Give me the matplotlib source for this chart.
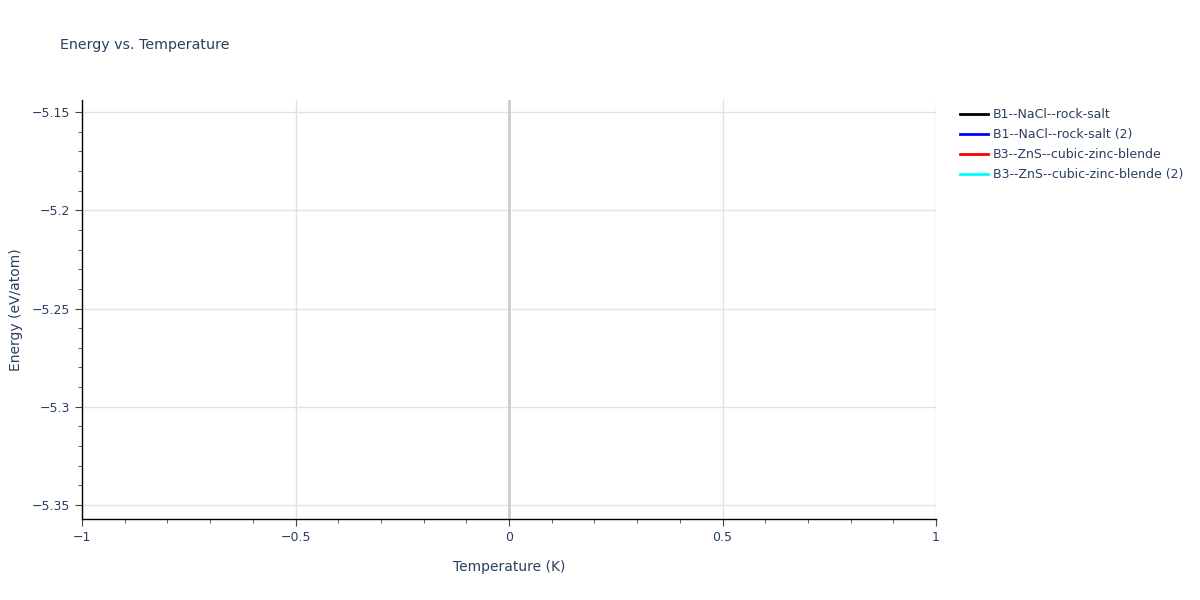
import numpy as np
import matplotlib.pyplot as plt
from matplotlib.ticker import MultipleLocator

# each structure only has a single (T, E) point, so no visible line gets drawn
temps = [0.0]
names = ['B1--NaCl--rock-salt', 'B1--NaCl--rock-salt (2)',
         'B3--ZnS--cubic-zinc-blende', 'B3--ZnS--cubic-zinc-blende (2)']
energies = [[-5.3474], [-5.3474], [-5.1536], [-5.1536]]
colors = ['black', 'blue', 'red', 'cyan']

txt = '#2a3f5f'
fig = plt.figure(figsize=(12, 6), dpi=100)
ax = fig.add_axes([82 / 1200, 1 - 519 / 600, (936 - 82) / 1200, 419 / 600])

for e, name, c in zip(energies, names, colors):
    ax.plot(temps, e, color=c, lw=2, label=name)

ax.set_xlim(-1, 1)
ax.set_ylim(-5.3571, -5.1439)
ax.xaxis.set_minor_locator(MultipleLocator(0.1))
ax.yaxis.set_minor_locator(MultipleLocator(0.01))
ax.set_xticks([-1, -0.5, 0, 0.5, 1])
ax.set_xticklabels(['\u22121', '\u22120.5', '0', '0.5', '1'])
ax.set_yticks([-5.35, -5.3, -5.25, -5.2, -5.15])
ax.set_yticklabels(['\u22125.35', '\u22125.3', '\u22125.25', '\u22125.2', '\u22125.15'])

ax.grid(True, which='major', color='#e1e1e1', lw=1)
ax.axvline(0, color='#cccccc', lw=2, zorder=2)
for s in ['top', 'right']:
    ax.spines[s].set_visible(False)
for s in ['left', 'bottom']:
    ax.spines[s].set_color('black')
    ax.spines[s].set_linewidth(1)
ax.tick_params(which='major', length=5, color='#444444', labelsize=9, labelcolor=txt, direction='out')
ax.tick_params(which='minor', length=3, color='#444444', direction='out')

ax.set_xlabel('Temperature (K)', fontsize=10, color=txt, labelpad=12)
ax.set_ylabel('Energy (eV/atom)', fontsize=10, color=txt, labelpad=6)
fig.text(60 / 1200, 1 - 45 / 600, 'Energy vs. Temperature', fontsize=10.3, color=txt, va='center')

fig.legend(loc='upper left', bbox_to_anchor=(949 / 1200, 1 - 97 / 600), frameon=False,
           fontsize=9, labelcolor=txt, handlelength=2.2, handletextpad=0.4, labelspacing=0.55)

fig.savefig('out.png', dpi=100)
